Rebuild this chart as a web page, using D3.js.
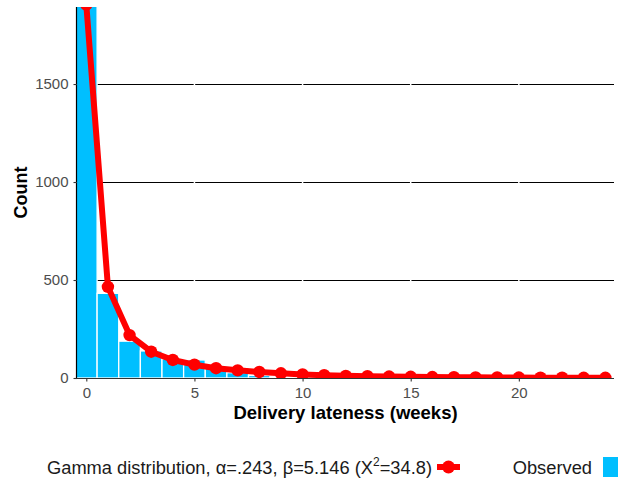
<!DOCTYPE html>
<html><head><meta charset="utf-8">
<script src="https://cdn.jsdelivr.net/npm/d3@7"></script>
<style>body{margin:0;background:#fff;} svg{display:block;font-family:"Liberation Sans",Arial,sans-serif;}</style>
</head><body>
<svg id="chart" width="618" height="484"></svg>
<script>
// Data
const barWeeks = [0,1,2,3,4,5,6,7,8,9,10];
const observed = [2100,432,188,138,98,92,58,27,13,6,3];
const fitWeeks = [0,1,2,3,4,5,6,7,8,9,10,11,12,13,14,15,16,17,18,19,20,21,22,23,24];
const expected = [1905,465,219,134,92,68,50,39,31,24,18,14,11,9,7.5,6,5,4,3.3,2.7,2.2,1.8,1.4,1.1,0.9];
const xTicks = [0,5,10,15,20];
const yTicks = [0,500,1000,1500];
const fitLabelParts = ["Gamma distribution, α=.243, β=5.146 (X", "2", "=34.8)"];
const obsLabel = "Observed";

const svg = d3.select("#chart");
const L = 77, R = 614, T = 7, B = 378;
const x = d3.scaleLinear().domain([-0.43, 24.4]).range([L, R]);
const y = d3.scaleLinear().domain([0, 1893]).range([B, T]);
const blue = "#00BFFF", red = "#FF0000";

svg.append("defs").append("clipPath").attr("id","clip")
  .append("rect").attr("x",L).attr("y",T).attr("width",R-L).attr("height",B-T);

const panel = svg.append("g").attr("clip-path","url(#clip)");
// horizontal grid
panel.selectAll(".hg").data(yTicks.filter(d=>d>0)).join("line")
  .attr("x1",L).attr("x2",R).attr("y1",d=>Math.round(y(d))+0.5).attr("y2",d=>Math.round(y(d))+0.5)
  .attr("stroke","#000").attr("stroke-width",1.2);
// white vertical grid
panel.selectAll(".vg").data(xTicks).join("line")
  .attr("x1",d=>x(d)).attr("x2",d=>x(d)).attr("y1",T).attr("y2",B)
  .attr("stroke","#fff").attr("stroke-width",1.5);
// bars
panel.selectAll(".bar").data(barWeeks).join("rect")
  .attr("x",d=>x(d-0.5)).attr("width",d=>x(d+0.5)-x(d-0.5))
  .attr("y",(d,i)=>y(observed[i])).attr("height",(d,i)=>B-y(observed[i]))
  .attr("fill",blue).attr("stroke","#fff").attr("stroke-width",1.3);
// fitted line
const pts = fitWeeks.map((w,i)=>[w,expected[i]]);
panel.append("path").datum(pts)
  .attr("d",d3.line().x(d=>x(d[0])).y(d=>y(d[1])))
  .attr("fill","none").attr("stroke",red).attr("stroke-width",6).attr("stroke-linejoin","round");
panel.selectAll(".pt").data(pts).join("circle")
  .attr("cx",d=>x(d[0])).attr("cy",d=>y(d[1])).attr("r",6.2).attr("fill",red);

// axes
const fmt = d3.format("d");
const xAxis = svg.append("g").attr("transform",`translate(0,${B})`)
  .call(d3.axisBottom(x).tickValues(xTicks).tickFormat(fmt).tickSize(3.5).tickPadding(5.5));
const yAxis = svg.append("g").attr("transform",`translate(${L},0)`)
  .call(d3.axisLeft(y).tickValues(yTicks).tickFormat(fmt).tickSize(3.5).tickPadding(5));
xAxis.select(".domain").attr("d",`M${L},0.5H${R}`).attr("stroke","#333").attr("stroke-width",1.2);
yAxis.select(".domain").attr("d",`M-0.5,${T}V${B}`).attr("stroke","#000").attr("stroke-width",1.2);
[xAxis,yAxis].forEach(a=>{
  a.selectAll(".tick line").attr("stroke","#333").attr("stroke-width",1.1);
  a.selectAll(".tick text").attr("fill","#4d4d4d").style("font-size","15px").style("font-family","'Liberation Sans',Arial,sans-serif");
});

// axis titles
svg.append("text").attr("x",(L+R)/2).attr("y",419).attr("text-anchor","middle")
  .style("font-size","18.5px").style("font-weight","bold").text("Delivery lateness (weeks)");
svg.append("text").attr("transform",`translate(27,${(T+B)/2}) rotate(-90)`).attr("text-anchor","middle")
  .style("font-size","18px").style("font-weight","bold").text("Count");

// legend
const ly = 467;
const ft = svg.append("text").attr("x",432).attr("y",ly+6.5).attr("text-anchor","end")
  .style("font-size","18.3px").attr("fill","#1a1a1a");
ft.append("tspan").text(fitLabelParts[0]);
ft.append("tspan").attr("dy",-8).style("font-size","12px").text(fitLabelParts[1]);
ft.append("tspan").attr("dy",8).text(fitLabelParts[2]);
svg.append("line").attr("x1",437).attr("x2",460).attr("y1",ly).attr("y2",ly)
  .attr("stroke",red).attr("stroke-width",6);
svg.append("circle").attr("cx",448.5).attr("cy",ly).attr("r",6.5).attr("fill",red);
svg.append("text").attr("x",592).attr("y",ly+6.5).attr("text-anchor","end")
  .style("font-size","18.3px").attr("fill","#1a1a1a").text(obsLabel);
svg.append("rect").attr("x",603).attr("y",ly-10).attr("width",20).attr("height",20).attr("fill",blue);
</script>
</body></html>
